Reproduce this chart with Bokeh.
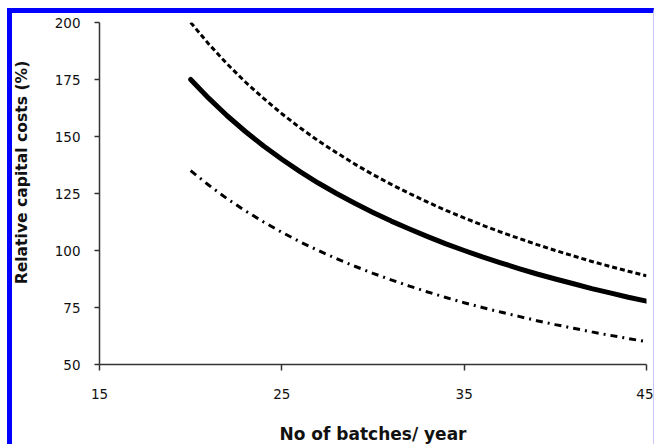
import math
from bokeh.plotting import figure
from bokeh.models import Range1d, FixedTicker, Label
from bokeh.embed import file_html
from bokeh.resources import INLINE

# Data
batches = [20, 21, 22, 23, 24, 25, 26, 27, 28, 29, 30, 31, 32, 33, 34, 35,
           36, 37, 38, 39, 40, 41, 42, 43, 44, 45]
base_cost = [175, 166.7, 159.1, 152.2, 145.8, 140, 134.6, 129.6, 125, 120.7,
             116.7, 112.9, 109.4, 106.1, 102.9, 100, 97.2, 94.6, 92.1, 89.7,
             87.5, 85.4, 83.3, 81.4, 79.5, 77.8]
upper_cost = [200, 190.5, 181.8, 173.9, 166.7, 160, 153.8, 148.1, 142.9, 137.9,
              133.3, 129, 125, 121.2, 117.6, 114.3, 111.1, 108.1, 105.3, 102.6,
              100, 97.6, 95.2, 93, 90.9, 88.9]
lower_cost = [135, 128.6, 122.7, 117.4, 112.5, 108, 103.8, 100, 96.4, 93.1,
              90, 87.1, 84.4, 81.8, 79.4, 77.1, 75, 73, 71.1, 69.2, 67.5, 65.9,
              64.3, 62.8, 61.4, 60]
x_ticks = [15, 25, 35, 45]
y_ticks = [50, 75, 100, 125, 150, 175, 200]

FONT = "DejaVu Sans"

p = figure(output_backend="svg", toolbar_location=None,
           frame_width=547, frame_height=342,
           x_range=Range1d(15, 45), y_range=Range1d(50, 200),
           min_border_left=87, min_border_right=7,
           min_border_top=9, min_border_bottom=77)

p.styles = {"margin-top": "8px", "margin-left": "7px",
            "border-top": "5px solid #0000ff", "border-left": "5px solid #0000ff",
            "border-right": "1px solid #c8c8ff", "border-bottom": "1px solid #6464ff"}

p.xgrid.visible = False
p.ygrid.visible = False
p.outline_line_color = None
p.background_fill_color = "white"
p.border_fill_color = "white"

p.line(batches, upper_cost, line_color="black", line_width=3, line_dash="5 3")
p.line(batches, base_cost, line_color="black", line_width=5, line_cap="round",
       line_join="round")
p.line(batches, lower_cost, line_color="black", line_width=3, line_dash="7 5 2 5")

for ax in (p.xaxis[0], p.yaxis[0]):
    ax.axis_line_color = "#333333"
    ax.axis_line_width = 1.5
    ax.major_tick_line_color = "#333333"
    ax.major_tick_line_width = 1.5
    ax.minor_tick_line_color = None
    ax.major_tick_in = 0
    ax.major_label_text_font = FONT
    ax.major_label_text_font_size = "13.5px"
    ax.major_label_text_color = "#111111"

p.xaxis.ticker = FixedTicker(ticks=x_ticks)
p.yaxis.ticker = FixedTicker(ticks=y_ticks)
p.xaxis.major_tick_out = 6
p.yaxis.major_tick_out = 5
p.yaxis.major_label_standoff = 14
p.xaxis.major_label_standoff = 18

p.xaxis.axis_label = "No of batches/ year"
p.xaxis.axis_label_text_font = FONT
p.xaxis.axis_label_text_font_style = "bold"
p.xaxis.axis_label_text_font_size = "17px"
p.xaxis.axis_label_text_color = "#111111"
p.xaxis.axis_label_standoff = 22

ytitle = Label(text="Relative capital costs (%)", x=4, y=154,
               x_units="canvas", y_units="canvas", angle=math.pi / 2,
               text_align="center", text_baseline="middle",
               text_font=FONT, text_font_style="bold", text_font_size="15.6px",
               text_color="#111111")
p.add_layout(ytitle, "left")

open("out.html", "w").write(file_html(p, INLINE))
